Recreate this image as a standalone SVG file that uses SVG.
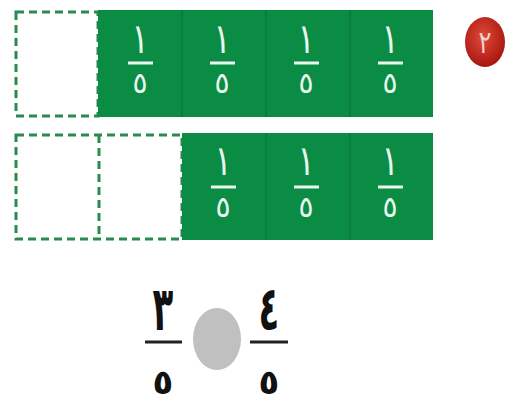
<svg xmlns="http://www.w3.org/2000/svg" width="517" height="402" viewBox="0 0 517 402">
<style>
.g{fill:#0b8c45}
.div{stroke:#077a3a;stroke-width:1.5}
.dash{fill:#fff;stroke:#2a8a50;stroke-width:3;stroke-dasharray:8,5}
.n{font-family:"DejaVu Sans",sans-serif;font-size:32px;fill:#e8f8ee;text-anchor:middle}
.d{font-family:"DejaVu Sans",sans-serif;font-size:28px;fill:#e8f8ee;text-anchor:middle}
.fl{stroke:#e8f8ee;stroke-width:3}
.b{font-family:"DejaVu Sans",sans-serif;font-size:34px;font-weight:bold;fill:#111;text-anchor:middle}
.bl{stroke:#222;stroke-width:3}
</style>
<rect width="517" height="402" fill="#fff"/>
<g id="row1">
<rect class="dash" x="16" y="12" width="82" height="104"/>
<rect class="g" x="98" y="10" width="335" height="107"/>
<line class="div" x1="182" y1="10" x2="182" y2="117"/>
<line class="div" x1="266" y1="10" x2="266" y2="117"/>
<line class="div" x1="350" y1="10" x2="350" y2="117"/>
<g id="r1c1"><text class="n" transform="translate(140,53) scale(1,1.3)">١</text><line class="fl" x1="128" y1="63" x2="153" y2="63"/><text class="d" transform="translate(140,93) scale(1,1.05)">٥</text></g>
<g id="r1c2"><text class="n" transform="translate(222,53) scale(1,1.3)">١</text><line class="fl" x1="210" y1="63" x2="235" y2="63"/><text class="d" transform="translate(222,93) scale(1,1.05)">٥</text></g>
<g id="r1c3"><text class="n" transform="translate(306,53) scale(1,1.3)">١</text><line class="fl" x1="294" y1="63" x2="319" y2="63"/><text class="d" transform="translate(306,93) scale(1,1.05)">٥</text></g>
<g id="r1c4"><text class="n" transform="translate(390,53) scale(1,1.3)">١</text><line class="fl" x1="378" y1="63" x2="403" y2="63"/><text class="d" transform="translate(390,93) scale(1,1.05)">٥</text></g>
</g>
<g id="row2">
<rect class="dash" x="16" y="135" width="166" height="104"/>
<line class="dash" x1="99" y1="135" x2="99" y2="239"/>
<rect class="g" x="182" y="133" width="251" height="107"/>
<line class="div" x1="266" y1="133" x2="266" y2="240"/>
<line class="div" x1="350" y1="133" x2="350" y2="240"/>
<g id="r2c1"><text class="n" transform="translate(223,175) scale(1,1.3)">١</text><line class="fl" x1="211" y1="187" x2="236" y2="187"/><text class="d" transform="translate(223,217) scale(1,1.05)">٥</text></g>
<g id="r2c2"><text class="n" transform="translate(306,175) scale(1,1.3)">١</text><line class="fl" x1="294" y1="187" x2="319" y2="187"/><text class="d" transform="translate(306,217) scale(1,1.05)">٥</text></g>
<g id="r2c3"><text class="n" transform="translate(390,175) scale(1,1.3)">١</text><line class="fl" x1="378" y1="187" x2="403" y2="187"/><text class="d" transform="translate(390,217) scale(1,1.05)">٥</text></g>
</g>
<g id="badge">
<defs><radialGradient id="rg" cx="0.45" cy="0.4" r="0.6"><stop offset="0" stop-color="#e04a3a"/><stop offset="1" stop-color="#a8170f"/></radialGradient></defs>
<ellipse cx="485" cy="42" rx="20" ry="25" fill="url(#rg)"/>
<text transform="translate(485,53) scale(1,1.3)" font-family="DejaVu Sans,sans-serif" font-size="24" fill="#f4d0c8" text-anchor="middle">٢</text>
</g>
<g id="compare">
<text class="b" transform="translate(163,330) scale(1,1.8)">٣</text>
<line class="bl" x1="145" y1="342" x2="182" y2="342"/>
<text class="b" x="163" y="394">٥</text>
<ellipse cx="217" cy="339" rx="24" ry="31" fill="#c0c0c0"/>
<text class="b" transform="translate(269,330) scale(1,1.8)">٤</text>
<line class="bl" x1="250" y1="342" x2="288" y2="342"/>
<text class="b" x="269" y="394">٥</text>
</g>
</svg>
